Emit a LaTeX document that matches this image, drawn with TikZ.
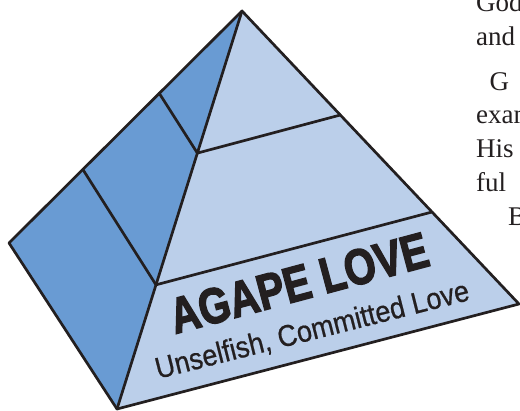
\documentclass[tikz,border=0pt]{standalone}
\usepackage{fontspec}
\setmainfont{Liberation Serif}
\newfontfamily\helv[FakeBold=0.7]{Liberation Sans}
\newfontfamily\helvblack[FakeBold=3]{Liberation Sans Bold}
\usetikzlibrary{calc}
\definecolor{darkface}{RGB}{105,155,211}
\definecolor{lightface}{RGB}{187,207,234}
\definecolor{edgecol}{RGB}{35,31,32}
\begin{document}
\begin{tikzpicture}[x=1pt,y=-1pt,
  edgeline/.style={draw=edgecol, line width=2.7pt, line join=round, line cap=round},
  shadowlayer/.style={fill=black, fill opacity=0.028},
  bodytext/.style={anchor=base west, inner sep=0pt, font=\fontsize{27}{27}\selectfont, text=edgecol},
  bigtitle/.style={anchor=base west, inner sep=0pt, rotate=15, text=edgecol, font=\helvblack\fontsize{50}{50}\selectfont},
  subtitle/.style={anchor=base west, inner sep=0pt, rotate=14.2, text=edgecol, font=\helv\fontsize{30}{30}\selectfont}]
\useasboundingbox (0,0) rectangle (520,411);
\clip (0,0) rectangle (520,411);
% corners
\coordinate (T) at (242,11);
\coordinate (L) at (9,243);
\coordinate (B) at (117,409);
\coordinate (R) at (519,304);
% tier points
\coordinate (S1) at ($(T)!0.355!(L)$);
\coordinate (S2) at ($(T)!0.683!(L)$);
\coordinate (P1) at ($(T)!0.357!(B)$);
\coordinate (P2) at ($(T)!0.688!(B)$);
\coordinate (Q1) at ($(T)!0.355!(R)$);
\coordinate (Q2) at ($(T)!0.686!(R)$);
% soft shadow
\foreach \k in {1,...,16}{
  \fill[shadowlayer, shift={(-0.7*\k,1.2*\k)}] (T)--(L)--(B)--(R)--cycle;
}
% faces
\fill[darkface] (T)--(L)--(B)--cycle;
\fill[lightface] (T)--(B)--(R)--cycle;
\draw[edgeline] (T)--(L)--(B)--(R)--cycle;
\draw[edgeline] (T)--(B);
\draw[edgeline] (S1)--(P1)--(Q1);
\draw[edgeline] (S2)--(P2)--(Q2);
% labels
\node[bigtitle] (title) at (175,334) {\scalebox{0.81}[1]{AGAPE LOVE}};
\node[subtitle] (sub) at (158,379) {\scalebox{0.9}[1]{Unselfish, Committed Love}};
% page text at right
\node[bodytext] (w1) at (476,12) {God};
\node[bodytext] (w2) at (476,46) {and};
\node[bodytext] (w3) at (489.5,91) {G};
\node[bodytext] (w4) at (476,124) {exam};
\node[bodytext] (w5) at (476,158) {His};
\node[bodytext] (w6) at (476,192) {ful};
\node[bodytext] (w7) at (508,226) {B};
\end{tikzpicture}
\end{document}
